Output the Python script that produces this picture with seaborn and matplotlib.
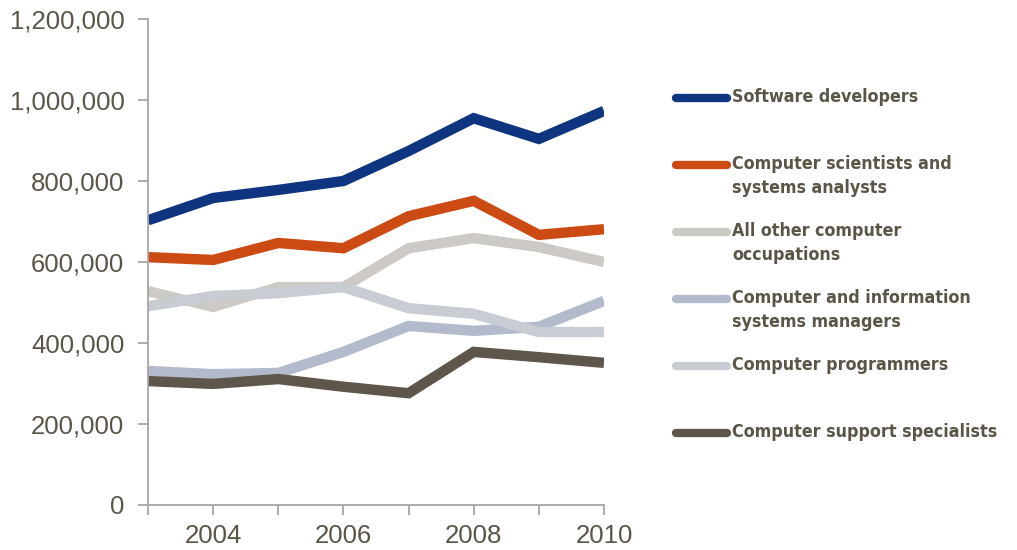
import numpy as np
import pandas as pd
import matplotlib.pyplot as plt
import seaborn as sns
from matplotlib.lines import Line2D
from matplotlib.ticker import FuncFormatter, MultipleLocator

years = [2003, 2004, 2005, 2006, 2007, 2008, 2009, 2010]

software_dev = [703000, 758000, 778000, 800000, 874000, 955000, 904000, 973000]
scientists_analysts = [612000, 605000, 647000, 634000, 713000, 751000, 667000, 681000]
all_other = [528000, 489000, 538000, 538000, 634000, 659000, 637000, 600000]
managers = [331000, 323000, 326000, 378000, 442000, 430000, 440000, 504000]
programmers = [491000, 516000, 523000, 538000, 486000, 472000, 427000, 427000]
support = [306000, 299000, 311000, 292000, 276000, 378000, 365000, 351000]

series_names = ['Software developers',
                'Computer scientists and\nsystems analysts',
                'All other computer\noccupations',
                'Computer and information\nsystems managers',
                'Computer programmers',
                'Computer support specialists']
series_values = [software_dev, scientists_analysts, all_other, managers, programmers, support]
colors = ['#0f3581', '#cc4a14', '#cdcac5', '#b3bacb', '#c8ccd3', '#5e554b']

rows = []
for name, vals in zip(series_names, series_values):
    for yr, v in zip(years, vals):
        rows.append({'year': yr, 'value': v, 'series': name})
df = pd.DataFrame(rows)

sns.set_style('white')
plt.rcParams['font.family'] = ['Liberation Sans', 'DejaVu Sans']

text_color = '#5b5548'
axis_color = '#a6a6a6'

fig = plt.figure(figsize=(10.17, 5.5), dpi=100)
ax = fig.add_axes([148 / 1017, 45 / 550, 456 / 1017, 486 / 550])

sns.lineplot(data=df, x='year', y='value', hue='series', hue_order=series_names,
             palette=colors, linewidth=7.5, ax=ax, legend=False,
             solid_joinstyle='miter', solid_capstyle='butt')

ax.set_xlim(2003, 2010)
ax.set_ylim(0, 1200000)
ax.set_xticks(years)
ax.set_xticklabels([str(y) if y % 2 == 0 else '' for y in years])
ax.yaxis.set_major_locator(MultipleLocator(200000))
ax.yaxis.set_major_formatter(FuncFormatter(lambda v, p: f'{int(v):,}'))
ax.set_xlabel('')
ax.set_ylabel('')

for s in ['top', 'right']:
    ax.spines[s].set_visible(False)
for s in ['left', 'bottom']:
    ax.spines[s].set_color(axis_color)
    ax.spines[s].set_linewidth(1.3)

ax.tick_params(axis='both', which='major', direction='out', length=7, width=1.3,
               bottom=True, left=True,
               color=axis_color, labelcolor=text_color, labelsize=18.5)
ax.tick_params(axis='x', pad=7)
ax.tick_params(axis='y', pad=10)

# legend entries drawn by hand so multi-line labels align on first line
leg_y = [98, 165, 232, 299, 366, 433]
for name, col, yp in zip(series_names, colors, leg_y):
    yf = 1 - yp / 550
    fig.add_artist(Line2D([676 / 1017, 727 / 1017], [yf, yf], color=col, linewidth=6,
                          solid_capstyle='round', transform=fig.transFigure))
    fig.text(732 / 1017, yf + 10 / 550, name, color=text_color, fontsize=12.8,
             fontweight='bold', fontstretch='condensed',
             family=['DejaVu Sans'],
             va='top', ha='left', linespacing=1.45)

fig.savefig('out.png', dpi=100)
